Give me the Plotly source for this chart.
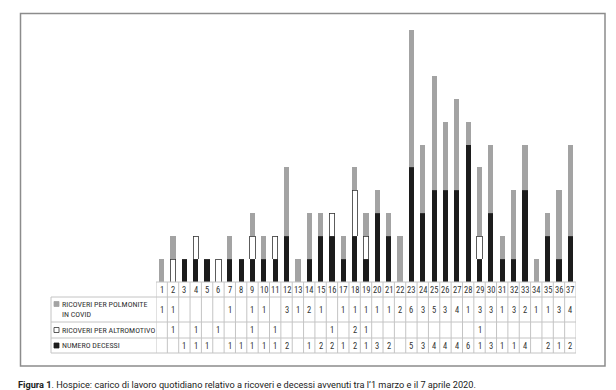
import plotly.graph_objects as go

days = list(range(1, 38))
polmonite = [1, 1, 0, 0, 0, 0, 1, 0, 1, 1, 0, 3, 1, 2, 1, 0, 1, 1, 1, 1, 1, 2, 6, 3, 5, 3, 4, 1, 3, 3, 1, 3, 2, 1, 1, 3, 4]
altro = [0, 1, 0, 1, 0, 1, 0, 0, 1, 0, 1, 0, 0, 0, 0, 1, 0, 2, 1, 0, 0, 0, 0, 0, 0, 0, 0, 0, 1, 0, 0, 0, 0, 0, 0, 0, 0]
decessi = [0, 0, 1, 1, 1, 0, 1, 1, 1, 1, 1, 2, 0, 1, 2, 2, 1, 2, 1, 3, 2, 0, 5, 3, 4, 4, 4, 6, 1, 3, 1, 1, 4, 0, 2, 1, 2]
row_labels = ["RICOVERI PER POLMONITE<br>IN COVID", "RICOVERI PER ALTROMOTIVO", "NUMERO DECESSI"]
caption_bold = "Figura 1"
caption_rest = ". Hospice: carico di lavoro quotidiano relativo a ricoveri e decessi avvenuti tra l\u20191 marzo e il 7 aprile 2020."

W, H = 616, 390
FONT = "Liberation Sans Narrow, Roboto Condensed, Roboto, sans-serif"
CAP_FONT = "Roboto, sans-serif"
GREY = "#a3a3a3"
BLACK = "#1c1c1c"
LINE = "#c4c4c4"
TXT = "#333333"

def px(x):
    return x / W

def py(y):
    return 1 - y / H

fig = go.Figure()
bw = 0.46
fig.add_bar(x=days, y=decessi, marker=dict(color=BLACK, line=dict(width=0)), width=bw, name="NUMERO DECESSI")
fig.add_bar(x=days, y=altro, marker=dict(color="white", line=dict(width=0.8, color="#333333")), width=bw, name="RICOVERI PER ALTRO MOTIVO")
fig.add_bar(x=days, y=polmonite, marker=dict(color=GREY, line=dict(width=0)), width=bw, name="RICOVERI PER POLMONITE IN COVID")

x_left, x_right = 148, 568
base_y, top_y = 274, 22
fig.update_layout(
    template="none",
    width=W, height=H, margin=dict(l=0, r=0, t=0, b=0),
    barmode="stack", showlegend=False,
    plot_bgcolor="white", paper_bgcolor="white",
    font=dict(family=FONT, size=8, color=TXT),
    xaxis=dict(domain=[px(x_left), px(x_right)], range=[0.5, 37.5], visible=False, fixedrange=True),
    yaxis=dict(domain=[py(base_y), py(top_y)], range=[0, 11], visible=False, fixedrange=True),
)

shapes = []
shapes.append(dict(type="rect", xref="paper", yref="paper", x0=px(12.5), x1=px(597), y0=py(5.5), y1=py(358),
                   line=dict(color="#8c8c8c", width=1.5)))
rows = [274, 289, 314, 330, 345]
label_left = 43
shapes.append(dict(type="line", xref="x", yref="paper", x0=0.5, x1=37.5, y0=py(rows[0]), y1=py(rows[0]), line=dict(color=LINE, width=1)))
for r in rows[1:]:
    shapes.append(dict(type="line", xref="paper", yref="paper", x0=px(label_left), x1=px(x_right), y0=py(r), y1=py(r), line=dict(color=LINE, width=1)))
shapes.append(dict(type="line", xref="paper", yref="paper", x0=px(label_left), x1=px(label_left), y0=py(rows[1]), y1=py(rows[-1]), line=dict(color=LINE, width=1)))
for d in range(0, 38):
    shapes.append(dict(type="line", xref="x", yref="paper", x0=d + 0.5, x1=d + 0.5, y0=py(rows[0]), y1=py(rows[-1]), line=dict(color=LINE, width=1)))
sq_colors = [(GREY, GREY), ("white", "#333333"), (BLACK, BLACK)]
sq_centers = [296, 322, 337.5]
for (fc, lc), cy in zip(sq_colors, sq_centers):
    shapes.append(dict(type="rect", xref="paper", yref="paper", x0=px(46), x1=px(51), y0=py(cy + 2.5), y1=py(cy - 2.5),
                       fillcolor=fc, line=dict(color=lc, width=0.8)))

annotations = []
for d in days:
    annotations.append(dict(x=d, y=py(281.5), xref="x", yref="paper", text=str(d), showarrow=False,
                            font=dict(size=8.5, color=TXT), xanchor="center", yanchor="middle"))
row_centers = [301.5, 322, 337.5]
for series, cy in zip([polmonite, altro, decessi], row_centers):
    for d, v in zip(days, series):
        if v:
            annotations.append(dict(x=d, y=py(cy), xref="x", yref="paper", text=str(v), showarrow=False,
                                    font=dict(size=8.5, color=TXT), xanchor="center", yanchor="middle"))
for lab, cy in zip(row_labels, row_centers):
    annotations.append(dict(x=px(51.5), y=py(cy), xref="paper", yref="paper", text=lab, showarrow=False,
                            font=dict(size=8, color=TXT), xanchor="left", yanchor="middle", align="left"))
annotations.append(dict(x=px(8), y=py(376), xref="paper", yref="paper",
                        text="<b>" + caption_bold + "</b>" + caption_rest, showarrow=False,
                        font=dict(family=CAP_FONT, size=9.2, color="#222222"), xanchor="left", yanchor="middle"))

fig.update_layout(shapes=shapes, annotations=annotations)
fig.write_html("out.html")
